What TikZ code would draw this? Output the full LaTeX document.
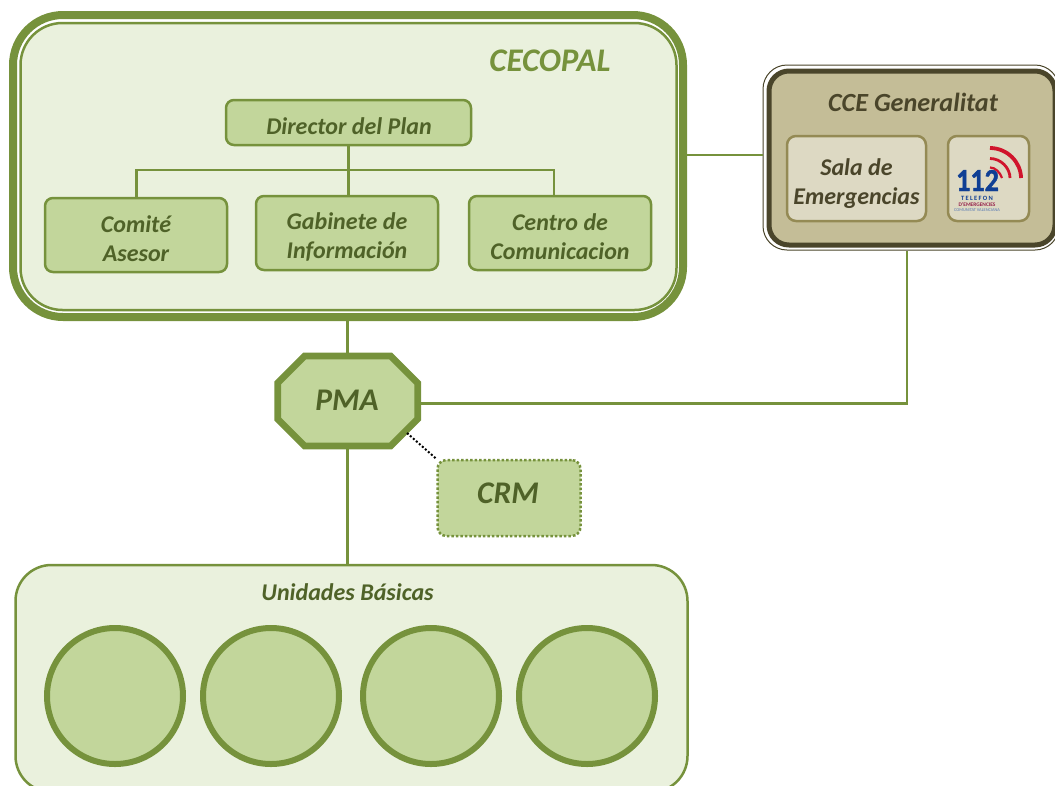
\documentclass[tikz,border=0pt]{standalone}
\usepackage{fontspec}
\setmainfont{Carlito}
\definecolor{gr}{HTML}{76923C}
\definecolor{grf}{HTML}{C2D69B}
\definecolor{grl}{HTML}{EAF1DD}
\definecolor{grt}{HTML}{4F6228}
\definecolor{brf}{HTML}{C4BD97}
\definecolor{brd}{HTML}{4A452A}
\definecolor{brl}{HTML}{DDD9C3}
\definecolor{brm}{HTML}{948A54}
\definecolor{redl}{HTML}{D0142C}
\definecolor{blul}{HTML}{0F3F94}
\newcommand{\fsz}[2]{\fontsize{#1pt}{#2pt}\selectfont\bfseries\itshape}
\tikzset{
 x=1pt,y=-1pt,
 greenbox/.style={draw=gr,fill=grf,line width=2.5pt,rounded corners=8pt,inner sep=0pt},
 greentext/.style={inner sep=0pt,align=center,text=grt,font=\fsz{24}{29}},
 brownbox/.style={draw=brm,fill=brl,line width=2.5pt,rounded corners=9pt,inner sep=0pt},
 link/.style={draw=gr,line width=2.6pt},
 circ/.style={circle,draw=gr,fill=grf,line width=6pt,minimum size=136pt,inner sep=0pt},
 boxsize/.style 2 args={minimum width=#1pt,minimum height=#2pt},
}
\begin{document}
\begin{tikzpicture}
\useasboundingbox (0,0) rectangle (1055,785);
\clip (0,0) rectangle (1055,785);
% outer frames
\node[draw=gr,fill=white,line width=8pt,rounded corners=50pt,inner sep=0pt,boxsize={670}{302}] (cecopal) at (348,166) {};
\node[draw=gr,fill=grl,line width=2.5pt,rounded corners=42pt,inner sep=0pt,boxsize={656}{287}] (cecopalin) at (348.5,166.5) {};
\node[text=gr,font=\fsz{33}{33},inner sep=0pt] (cecotitle) at (550,60.5) {CECOPAL};
\node[greenbox,boxsize={245}{45}] (director) at (348.5,122.5) {};
\node[greentext] (directort) at (349,126) {Director del Plan};
\node[greenbox,boxsize={182}{74}] (comite) at (136,235) {};
\node[greentext] (comitet) at (136,239) {Comité\\Asesor};
\node[greenbox,boxsize={182}{74}] (gabinete) at (347,233) {};
\node[greentext] (gabinetet) at (347,237) {Gabinete de\\Información};
\node[greenbox,boxsize={182}{74}] (centro) at (560,233) {};
\node[greentext] (centrot) at (560,237) {Centro de\\Comunicacion};
\coordinate (busl) at (136.5,170);
\coordinate (busr) at (554,170);
\draw[link] (director.south) -- (director.south |- gabinete.north);
\draw[link] (comite.north -| busl) -- (busl) -- (busr) -- (busr |- centro.north);
% CCE
\node[draw=brd,fill=white,line width=1pt,rounded corners=24pt,inner sep=0pt,boxsize={296}{185}] (cce) at (911,157.5) {};
\node[draw=brd,fill=brf,line width=5pt,rounded corners=20pt,inner sep=0pt,boxsize={286}{174}] (ccein) at (912,158) {};
\node[text=brd,font=\fsz{26.2}{26},inner sep=0pt] (ccetitle) at (913,102) {CCE Generalitat};
\node[brownbox,boxsize={139}{85}] (sala) at (856.5,178.5) {};
\node[text=brd,font=\fsz{24}{29},inner sep=0pt,align=center] (salat) at (856.5,183.5) {Sala de\\Emergencias};
\node[brownbox,boxsize={81}{85}] (logo) at (988.5,178.5) {};
% 112 logo
\draw[redl,line width=3.8pt] (990,148) .. controls (1007,148) and (1021,162) .. (1021,178);
\draw[redl,line width=2.8pt] (990,158.5) .. controls (1001,158.5) and (1010,168) .. (1010,178);
\draw[redl,line width=2.2pt] (990,167.5) .. controls (995,167.5) and (1000,172) .. (1002,178);
\node[text=blul,inner sep=0pt,anchor=base,font=\fontsize{32}{30}\selectfont\bfseries\addfontfeature{FakeBold=1.5}] (num) at (977.5,191) {\scalebox{0.88}[1]{\smash{112}}};
\node[text=blul,inner sep=0pt,anchor=base,font=\fontsize{6.5}{6}\selectfont\bfseries\addfontfeature{LetterSpace=20}] (tel) at (977,200) {\smash{TELEFON}};
\node[text=redl!70!blul,inner sep=0pt,anchor=base,font=\fontsize{5.4}{5}\selectfont\bfseries] (eme) at (977,206) {\smash{D'EMERGENCIES}};
\node[text=blul!70,inner sep=0pt,anchor=base,font=\fontsize{4.4}{4}\selectfont] (com) at (977,211) {\smash{COMUNITAT VALENCIANA}};
% lines between frames
\draw[link] (cecopal.east |- 0,155) -- (cce.west |- 0,155);
% PMA
\node[inner sep=0pt,boxsize={146}{96}] (pma) at (347.7,401) {};
\draw[draw=gr,fill=grf,line width=6.7pt,line join=miter]
 ([shift={(-43,-45)}]pma.center) -- ([shift={(43,-45)}]pma.center) -- ([shift={(70,-18)}]pma.center)
 -- ([shift={(70,18)}]pma.center) -- ([shift={(43,45)}]pma.center) -- ([shift={(-43,45)}]pma.center)
 -- ([shift={(-70,18)}]pma.center) -- ([shift={(-70,-18)}]pma.center) -- cycle;
\node[text=grt,font=\fsz{31.5}{32},inner sep=0pt] (pmat) at (347,400) {PMA};
\draw[link] (cecopal.south -| pma.north) -- (pma.north);
% CRM
\node[draw=gr,fill=grf,line width=2.5pt,dotted,rounded corners=9pt,inner sep=0pt,boxsize={143}{76}] (crm) at (509,498) {};
\node[text=grt,font=\fsz{31.5}{32},inner sep=0pt] (crmt) at (508,493) {CRM};
\coordinate (pmad) at (407,433);
\draw[black,line width=2pt,dotted] (pmad) -- (crm.north west);
% Unidades
\node[draw=gr,fill=grl,line width=2.5pt,rounded corners=36pt,inner sep=0pt,boxsize={672}{227}] (unidades) at (351.5,678.5) {};
\node[text=grt,font=\fsz{24}{27},inner sep=0pt] (unit) at (347.5,592) {Unidades Básicas};
\node[circ] (c1) at (115,696) {};
\node[circ] (c2) at (271,696) {};
\node[circ] (c3) at (431,696) {};
\node[circ] (c4) at (587,696) {};
\draw[link] (pma.south) -- (pma.south |- unidades.north);
\coordinate (elbow) at (907,403.5);
\draw[link] (pma.east |- elbow) -- (elbow) -- (elbow |- cce.south);
\end{tikzpicture}
\end{document}
